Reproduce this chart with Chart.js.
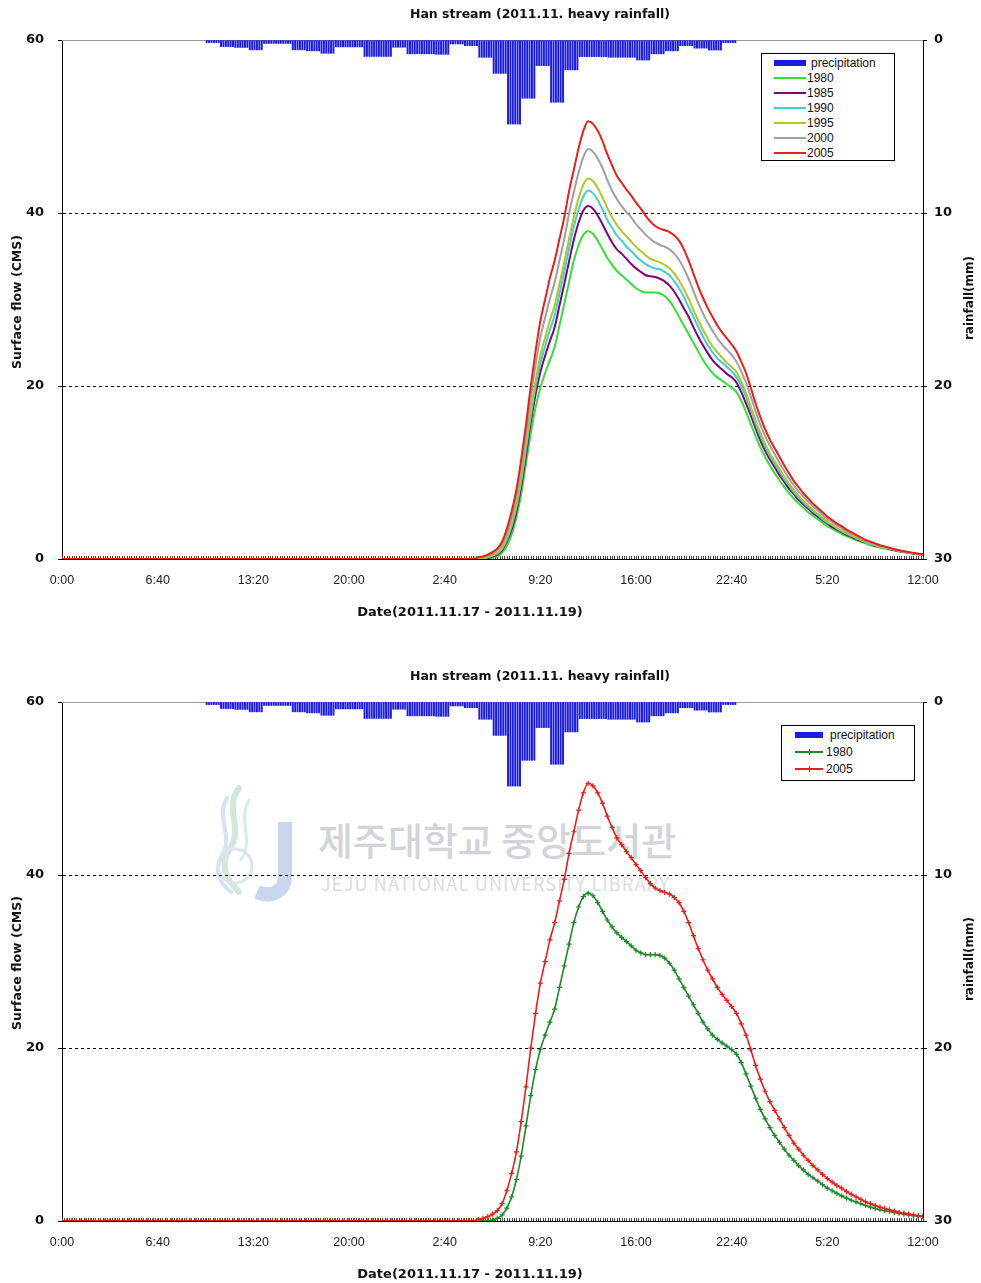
<!DOCTYPE html>
<html lang="en">
<head>
<meta charset="utf-8">
<title>Han stream (2011.11. heavy rainfall)</title>
<script src="https://cdn.jsdelivr.net/npm/chart.js@4.4.1/dist/chart.umd.min.js"></script>
<style>
  html, body { margin:0; padding:0; background:#fff; overflow:hidden; }
  #page { position:relative; width:981px; height:1283px; }
  canvas { position:absolute; left:0; }
  .txt { position:absolute; white-space:nowrap; color:#111; font-family:"DejaVu Sans", sans-serif; font-weight:bold; }
  .ctr { transform:translate(-50%,-50%); }
  .rot { transform:translate(-50%,-50%) rotate(-90deg); }
  .legend { position:absolute; border:1px solid #000; background:#fff; box-sizing:border-box;
            font:12px "Liberation Sans", Arial, sans-serif; color:#111; }
  .legend .sw, .legend .lab { position:absolute; }
  .legend .lab { line-height:14px; white-space:nowrap; }
  .wm { position:absolute; white-space:nowrap; color:#d2d4da; font-family:"Noto Sans CJK KR", sans-serif; }
</style>
</head>
<body>
<div id="page">
  <!-- library watermark behind the lower chart -->
  <svg style="position:absolute;left:205px;top:780px;" width="100" height="125" viewBox="0 0 100 125">
    <path d="M34 8 C18 30 40 48 24 70 C14 86 22 100 34 112" stroke="#cfe8da" stroke-width="6" fill="none" stroke-linecap="round"/>
    <path d="M22 18 C10 40 30 56 16 78 C8 92 16 104 26 112" stroke="#d6e2f0" stroke-width="4" fill="none" stroke-linecap="round"/>
    <path d="M44 20 C32 42 50 58 36 80" stroke="#d9eee2" stroke-width="3" fill="none" stroke-linecap="round"/>
    <circle cx="30" cy="86" r="17" fill="none" stroke="#dde3ea" stroke-width="3"/>
    <path d="M80 42 L80 96 C80 112 66 118 52 112" stroke="#c9d6ec" stroke-width="14" fill="none"/>
  </svg>
  <div class="wm" style="left:318px;top:811px;font-size:38px;font-weight:500;">제주대학교 중앙도서관</div>
  <div class="wm" style="left:321px;top:870px;font-size:18px;letter-spacing:1.2px;color:#dadce2;">JEJU NATIONAL UNIVERSITY LIBRARY</div>

  <canvas id="chartTop" width="981" height="641" style="top:0;"></canvas>
  <canvas id="chartBottom" width="981" height="621" style="top:662px;"></canvas>

  <div class="txt ctr" style="left:540px;top:13px;font-size:12.5px;">Han stream (2011.11. heavy rainfall)</div>
  <div class="txt ctr" style="left:470px;top:611px;font-size:13px;">Date(2011.11.17 - 2011.11.19)</div>
  <div class="txt rot" style="left:16px;top:302px;font-size:12.5px;">Surface flow (CMS)</div>
  <div class="txt rot" style="left:969px;top:298px;font-size:12px;">rainfall(mm)</div>

  <div class="txt ctr" style="left:540px;top:675px;font-size:12.5px;">Han stream (2011.11. heavy rainfall)</div>
  <div class="txt ctr" style="left:470px;top:1273px;font-size:13px;">Date(2011.11.17 - 2011.11.19)</div>
  <div class="txt rot" style="left:16px;top:963px;font-size:12.5px;">Surface flow (CMS)</div>
  <div class="txt rot" style="left:969px;top:959px;font-size:12px;">rainfall(mm)</div>

  <div id="legendTop" class="legend" style="left:761px;top:53px;width:134px;height:108px;"></div>
  <div id="legendBottom" class="legend" style="left:781px;top:725px;width:134px;height:56px;"></div>
</div>

<script>
// x axis: minutes from 2011-11-17 0:00, labelled every 400 minutes
const timeTickLabels = ['0:00', '6:40', '13:20', '20:00', '2:40', '9:20', '16:00', '22:40', '5:20', '12:00'];
const axisEndMin = 3600;

// rainfall (mm), one value per 10-minute step starting 2011-11-17 10:00
const rainStartMin = 600;
const rainfall10min = [
  0.15,0.15,0.15,0.15,0.15,0.15,  0.38,0.38,0.38,0.38,0.38,0.38,
  0.43,0.43,0.43,0.43,0.43,0.43,  0.57,0.57,0.57,0.57,0.57,0.57,
  0.2,0.2,0.2,0.2,0.2,0.2,        0.2,0.2,0.2,0.2,0.2,0.2,
  0.57,0.57,0.57,0.57,0.57,0.57,  0.63,0.63,0.63,0.63,0.63,0.63,
  0.77,0.77,0.77,0.77,0.77,0.77,  0.4,0.4,0.4,0.4,0.4,0.4,
  0.4,0.4,0.4,0.4,0.4,0.4,        0.95,0.95,0.95,0.95,0.95,0.95,
  0.95,0.95,0.95,0.95,0.95,0.95,  0.42,0.42,0.42,0.42,0.42,0.42,
  0.8,0.8,0.8,0.8,0.8,0.8,        0.8,0.8,0.8,0.8,0.8,0.8,
  0.83,0.83,0.83,0.83,0.83,0.83,  0.23,0.23,0.23,0.23,0.23,0.23,
  0.33,0.33,0.33,0.33,0.33,0.33,  1.0,1.0,1.0,1.0,1.0,1.0,
  1.93,1.93,1.93,1.93,1.93,1.93,  4.86,4.86,4.86,4.86,4.86,4.86,
  3.37,3.37,3.37,3.37,3.37,3.37,  1.48,1.48,1.48,1.48,1.48,1.48,
  3.6,3.6,3.6,3.6,3.6,3.6,        1.73,1.73,1.73,1.73,1.73,1.73,
  0.96,0.96,0.96,0.96,0.96,0.96,  0.96,0.96,0.96,0.96,0.96,0.96,
  1.0,1.0,1.0,1.0,1.0,1.0,        1.0,1.0,1.0,1.0,1.0,1.0,
  1.16,1.16,1.16,1.16,1.16,1.16,  0.8,0.8,0.8,0.8,0.8,0.8,
  0.63,0.63,0.63,0.63,0.63,0.63,  0.33,0.33,0.33,0.33,0.33,0.33,
  0.47,0.47,0.47,0.47,0.47,0.47,  0.58,0.58,0.58,0.58,0.58,0.58,
  0.15,0.15,0.15,0.15,0.15,0.15
];

// surface flow (CMS) every 20 minutes from 2011-11-17 0:00 to 2011-11-19 12:00
const flowStepMin = 20;
const flow1980 = [
  0,0,0,0,0,0,0,0,0,0, 0,0,0,0,0,0,0,0,0,0, 0,0,0,0,0,0,0,0,0,0, 0,0,0,0,0,0,0,0,0,0,
  0,0,0,0,0,0,0,0,0,0, 0,0,0,0,0,0,0,0,0,0, 0,0,0,0,0,0,0,0,0,0, 0,0,0,0,0,0,0,0,0,0,
  0,0,0,0,0,0,0,
  0,0,0,0.1,0.3,0.7,1.5,2.8,4.8,7.5,
  11.0,14.5,17.5,19.8,21.5,23.0,24.5,27.0,29.5,32.0,
  34.5,36.3,37.5,37.9,37.6,36.8,35.8,34.8,34.0,33.3,
  32.8,32.3,31.8,31.3,31.0,30.8,30.8,30.8,30.7,30.4,
  29.8,29.0,28.0,27.0,26.0,25.0,24.0,23.0,22.2,21.5,
  21.0,20.6,20.2,19.8,19.3,18.3,17.0,15.6,14.2,12.9,
  11.8,10.8,9.9,9.1,8.3,7.6,7.0,6.4,5.9,5.4,
  5.0,4.6,4.2,3.8,3.5,3.2,2.9,2.65,2.4,2.2,
  2.0,1.8,1.6,1.45,1.3,1.2,1.1,1.0,0.9,0.8,
  0.7,0.62,0.55,0.5
];
const flow1985 = [
  0,0,0,0,0,0,0,0,0,0, 0,0,0,0,0,0,0,0,0,0, 0,0,0,0,0,0,0,0,0,0, 0,0,0,0,0,0,0,0,0,0,
  0,0,0,0,0,0,0,0,0,0, 0,0,0,0,0,0,0,0,0,0, 0,0,0,0,0,0,0,0,0,0, 0,0,0,0,0,0,0,0,0,0,
  0,0,0,0,0,0,0,
  0.0,0.1,0.1,0.3,0.5,1.0,2.0,3.4,5.5,8.4,
  12.0,15.8,19.0,21.6,23.5,25.2,26.8,29.3,31.8,34.4,
  36.9,38.9,40.3,40.8,40.5,39.7,38.7,37.6,36.6,35.8,
  35.3,34.7,34.1,33.6,33.2,32.8,32.7,32.6,32.4,32.1,
  31.6,30.9,30.0,29.0,28.0,26.8,25.7,24.7,23.8,23.0,
  22.4,21.9,21.4,21.0,20.4,19.3,18.0,16.6,15.1,13.7,
  12.5,11.5,10.6,9.7,8.9,8.1,7.5,6.8,6.3,5.8,
  5.3,4.9,4.5,4.1,3.7,3.4,3.1,2.8,2.6,2.3,
  2.1,1.9,1.7,1.5,1.4,1.3,1.15,1.0,0.9,0.8,
  0.72,0.64,0.57,0.51
];
const flow1990 = [
  0,0,0,0,0,0,0,0,0,0, 0,0,0,0,0,0,0,0,0,0, 0,0,0,0,0,0,0,0,0,0, 0,0,0,0,0,0,0,0,0,0,
  0,0,0,0,0,0,0,0,0,0, 0,0,0,0,0,0,0,0,0,0, 0,0,0,0,0,0,0,0,0,0, 0,0,0,0,0,0,0,0,0,0,
  0,0,0,0,0,0,0,
  0.1,0.1,0.2,0.4,0.6,1.2,2.2,3.8,6.0,9.0,
  12.7,16.5,19.9,22.6,24.6,26.5,28.2,30.7,33.2,35.9,
  38.4,40.4,41.9,42.6,42.3,41.5,40.4,39.2,38.3,37.4,
  36.8,36.1,35.6,35.0,34.5,34.1,33.8,33.6,33.5,33.2,
  32.8,32.1,31.3,30.3,29.1,28.0,26.8,25.7,24.7,23.9,
  23.2,22.7,22.2,21.7,21.0,20.0,18.7,17.2,15.6,14.2,
  13.0,11.9,11.0,10.1,9.2,8.5,7.7,7.1,6.5,6.0,
  5.5,5.1,4.6,4.2,3.9,3.5,3.2,2.9,2.7,2.4,
  2.2,1.9,1.7,1.6,1.4,1.3,1.2,1.1,0.9,0.85,
  0.74,0.65,0.58,0.52
];
const flow1995 = [
  0,0,0,0,0,0,0,0,0,0, 0,0,0,0,0,0,0,0,0,0, 0,0,0,0,0,0,0,0,0,0, 0,0,0,0,0,0,0,0,0,0,
  0,0,0,0,0,0,0,0,0,0, 0,0,0,0,0,0,0,0,0,0, 0,0,0,0,0,0,0,0,0,0, 0,0,0,0,0,0,0,0,0,0,
  0,0,0,0,0,0,0,
  0.1,0.1,0.2,0.4,0.7,1.3,2.5,4.1,6.3,9.4,
  13.2,17.1,20.6,23.5,25.6,27.6,29.3,31.8,34.3,37.0,
  39.5,41.7,43.3,44.0,43.7,42.9,41.8,40.6,39.5,38.6,
  37.9,37.3,36.7,36.1,35.6,35.1,34.7,34.5,34.3,34.0,
  33.6,33.0,32.2,31.2,30.1,28.8,27.6,26.5,25.5,24.6,
  23.9,23.3,22.7,22.2,21.6,20.5,19.2,17.6,16.0,14.6,
  13.3,12.2,11.3,10.4,9.5,8.7,8.0,7.3,6.7,6.2,
  5.7,5.2,4.8,4.3,4.0,3.6,3.3,3.0,2.7,2.5,
  2.2,2.0,1.8,1.6,1.4,1.3,1.2,1.1,0.95,0.85,
  0.75,0.66,0.58,0.52
];
const flow2000 = [
  0,0,0,0,0,0,0,0,0,0, 0,0,0,0,0,0,0,0,0,0, 0,0,0,0,0,0,0,0,0,0, 0,0,0,0,0,0,0,0,0,0,
  0,0,0,0,0,0,0,0,0,0, 0,0,0,0,0,0,0,0,0,0, 0,0,0,0,0,0,0,0,0,0, 0,0,0,0,0,0,0,0,0,0,
  0,0,0,0,0,0,0,
  0.2,0.2,0.4,0.6,1.0,1.7,3.0,4.8,7.2,10.5,
  14.4,18.6,22.4,25.6,27.9,30.1,32.0,34.5,37.0,39.9,
  42.4,44.7,46.5,47.4,47.1,46.3,45.2,43.8,42.6,41.6,
  40.8,40.1,39.5,38.7,38.1,37.5,37.0,36.6,36.3,36.1,
  35.8,35.3,34.6,33.6,32.4,31.0,29.6,28.4,27.3,26.4,
  25.5,24.8,24.2,23.6,22.8,21.7,20.4,18.8,17.1,15.5,
  14.2,13.1,12.1,11.1,10.2,9.3,8.5,7.8,7.2,6.6,
  6.1,5.6,5.1,4.6,4.3,3.9,3.6,3.2,2.9,2.7,
  2.4,2.1,1.9,1.7,1.5,1.4,1.25,1.1,1.0,0.9,
  0.78,0.68,0.6,0.54
];
const flow2005 = [
  0,0,0,0,0,0,0,0,0,0, 0,0,0,0,0,0,0,0,0,0, 0,0,0,0,0,0,0,0,0,0, 0,0,0,0,0,0,0,0,0,0,
  0,0,0,0,0,0,0,0,0,0, 0,0,0,0,0,0,0,0,0,0, 0,0,0,0,0,0,0,0,0,0, 0,0,0,0,0,0,0,0,0,0,
  0,0,0,0,0,0,0,
  0.2,0.3,0.5,0.8,1.2,2.0,3.5,5.5,8.0,11.5,
  15.5,20.0,24.0,27.5,30.0,32.5,34.5,37.0,39.5,42.5,
  45.0,47.5,49.5,50.6,50.3,49.5,48.3,46.8,45.5,44.3,
  43.5,42.7,42.0,41.2,40.5,39.7,39.0,38.5,38.2,38.0,
  37.8,37.4,36.8,35.8,34.5,33.0,31.5,30.2,29.0,28.0,
  27.0,26.2,25.5,24.8,24.0,22.8,21.5,19.8,18.0,16.4,
  15.0,13.8,12.8,11.8,10.8,9.9,9.0,8.3,7.6,7.0,
  6.4,5.9,5.4,4.9,4.5,4.1,3.8,3.4,3.1,2.8,
  2.5,2.2,2.0,1.8,1.6,1.45,1.3,1.15,1.0,0.9,
  0.8,0.7,0.62,0.55
];

const topSeries = [
  { label: '1980', values: flow1980, color: '#33e033' },
  { label: '1985', values: flow1985, color: '#800080' },
  { label: '1990', values: flow1990, color: '#3ccfd6' },
  { label: '1995', values: flow1995, color: '#b0c626' },
  { label: '2000', values: flow2000, color: '#a0a0a0' },
  { label: '2005', values: flow2005, color: '#ee1c1c' }
];
const bottomSeries = [
  { label: '1980', values: flow1980, color: '#1c8a2a' },
  { label: '2005', values: flow2005, color: '#ee1c1c' }
];
const rainColor = '#1c1ce0';

Chart.defaults.font.family = '"Liberation Sans", Arial, sans-serif';
Chart.defaults.color = '#111';

function rainDataset() {
  return {
    type: 'bar',
    label: 'precipitation',
    data: rainfall10min.map((v, i) => ({ x: rainStartMin + i * 10 + 5, y: v })),
    yAxisID: 'y2',
    backgroundColor: rainColor,
    borderWidth: 0,
    barThickness: 1.3,
    grouped: false,
    order: 20
  };
}

function flowDataset(s, idx, n, markers) {
  return {
    type: 'line',
    label: s.label,
    data: s.values.map((v, i) => ({ x: i * flowStepMin, y: v })),
    yAxisID: 'y',
    borderColor: s.color,
    backgroundColor: s.color,
    borderWidth: markers ? 1.6 : 2,
    cubicInterpolationMode: 'monotone',
    pointRadius: markers ? 2.6 : 0,
    pointHoverRadius: 0,
    pointStyle: 'cross',
    pointBorderWidth: 1.2,
    pointBorderColor: s.color,
    fill: false,
    order: n - idx
  };
}

// minor tick marks every 10 minutes and the light top edge of the plot
const plotFrame = {
  id: 'plotFrame',
  beforeDatasetsDraw(chart) {
    const { ctx, chartArea: a, scales: { x } } = chart;
    ctx.save();
    ctx.strokeStyle = '#444';
    ctx.lineWidth = 1;
    ctx.beginPath();
    for (let m = 0; m <= axisEndMin; m += 10) {
      const px = Math.round(x.getPixelForValue(m)) + 0.5;
      ctx.moveTo(px, a.bottom);
      ctx.lineTo(px, a.bottom - 3);
    }
    ctx.stroke();
    ctx.strokeStyle = '#9a9a9a';
    ctx.beginPath();
    ctx.moveTo(a.left, a.top + 0.5);
    ctx.lineTo(a.right, a.top + 0.5);
    ctx.stroke();
    ctx.restore();
  }
};

function buildChart(canvasId, series, markers, xAxisHeight) {
  const datasets = [rainDataset()].concat(series.map((s, i) => flowDataset(s, i, series.length, markers)));
  return new Chart(document.getElementById(canvasId), {
    type: 'line',
    data: { datasets },
    plugins: [plotFrame],
    options: {
      responsive: false,
      animation: false,
      events: [],
      layout: { padding: { top: 40, left: 0, right: 0, bottom: 0 } },
      plugins: { legend: { display: false }, title: { display: false }, tooltip: { enabled: false } },
      scales: {
        x: {
          type: 'linear', min: 0, max: axisEndMin, offset: false,
          afterFit: s => { s.height = xAxisHeight; },
          ticks: {
            stepSize: 400, autoSkip: false, maxRotation: 0, padding: 6, color: '#222',
            font: { size: 12.5 },
            callback: (v, i) => timeTickLabels[i]
          },
          grid: { display: false },
          border: { display: true, color: '#000', width: 1 }
        },
        y: {
          position: 'left', min: 0, max: 60,
          afterFit: s => { s.width = 62; },
          ticks: { stepSize: 20, padding: 14, color: '#111', font: { size: 13, weight: 'bold', family: '"DejaVu Sans", sans-serif' } },
          grid: {
            color: c => (c.tick && c.tick.value > 0 && c.tick.value < 60) ? '#000' : 'rgba(0,0,0,0)',
            tickColor: '#000', tickLength: 4, lineWidth: 1
          },
          border: { display: true, color: '#000', width: 1, dash: [3, 3] }
        },
        y2: {
          position: 'right', min: 0, max: 30, reverse: true,
          afterFit: s => { s.width = 58; },
          ticks: { stepSize: 10, padding: 7, color: '#111', font: { size: 13, weight: 'bold', family: '"DejaVu Sans", sans-serif' } },
          grid: { drawOnChartArea: false, tickColor: '#000', tickLength: 4 },
          border: { display: true, color: '#000', width: 1 }
        }
      }
    }
  });
}

buildChart('chartTop', topSeries, false, 82);
buildChart('chartBottom', bottomSeries, true, 62);

// legends (HTML boxes placed inside the plot areas)
function buildLegend(boxId, series, rowTop, rowStep, swLeft, swWidth, textLeft, markers) {
  const box = document.getElementById(boxId);
  const rows = [{ label: 'precipitation', color: rainColor, bar: true }].concat(series);
  rows.forEach((r, i) => {
    const cy = rowTop + i * rowStep;
    const sw = document.createElement('div');
    sw.className = 'sw';
    if (r.bar) {
      sw.style.cssText = `left:${swLeft}px;top:${cy - 3}px;width:${swWidth}px;height:6px;background:${r.color};`;
    } else {
      sw.style.cssText = `left:${swLeft}px;top:${cy - 1}px;width:${swWidth}px;height:2px;background:${r.color};`;
    }
    box.appendChild(sw);
    if (markers && !r.bar) {
      const mk = document.createElement('div');
      mk.className = 'sw';
      mk.style.cssText = `left:${swLeft + swWidth / 2 - 0.5}px;top:${cy - 3}px;width:1.5px;height:6px;background:${r.color};`;
      box.appendChild(mk);
    }
    const lab = document.createElement('div');
    lab.className = 'lab';
    lab.textContent = r.label;
    lab.style.cssText = `left:${textLeft + (r.bar ? 4 : 0)}px;top:${cy - 7}px;`;
    box.appendChild(lab);
  });
}
buildLegend('legendTop', topSeries, 9, 15, 12, 32, 45, false);
buildLegend('legendBottom', bottomSeries, 9, 17, 13, 28, 44, true);
</script>
</body>
</html>
